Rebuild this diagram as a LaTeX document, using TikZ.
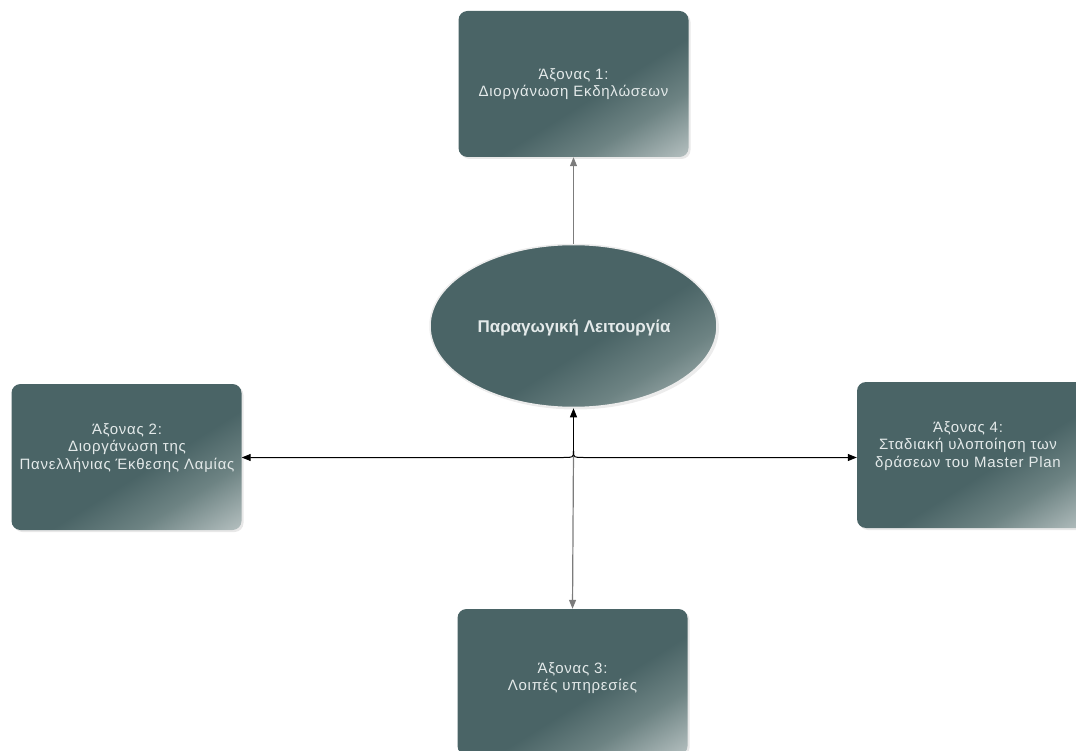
\documentclass[tikz,border=0pt]{standalone}
\usepackage{fontspec}
\setmainfont{Liberation Sans}
\newfontfamily\boxfont[LetterSpace=5]{Liberation Sans}
\usetikzlibrary{arrows.meta,shapes.geometric,shadows}
\definecolor{bdark}{HTML}{4A6466}
\definecolor{bmid}{HTML}{6D8383}
\definecolor{blight}{HTML}{BCC6C6}
\definecolor{btext}{HTML}{E4EAEA}
\definecolor{lgrey}{HTML}{7C7C7C}
\pgfdeclarehorizontalshading{boxshade}{100bp}{color(0bp)=(bdark); color(56bp)=(bdark); color(69bp)=(bmid); color(86bp)=(blight); color(100bp)=(blight)}
\tikzset{
  axisbox/.style={rectangle, rounded corners=9pt, minimum width=230pt, minimum height=146pt,
    shading=boxshade, shading angle=-58,
    drop shadow={opacity=0.18, shadow xshift=2pt, shadow yshift=-2pt}},
  boxtext/.style={text=btext, align=center, inner sep=0pt,
    font=\boxfont\fontsize{15pt}{17.5pt}\selectfont},
  core/.style={ellipse, minimum width=287pt, minimum height=163pt, inner sep=0pt,
    shading=boxshade, shading angle=-58, draw=white!85!gray, line width=1.5pt,
    drop shadow={opacity=0.15, shadow xshift=2pt, shadow yshift=-2pt}},
  coretext/.style={text=btext, inner sep=0pt, font=\bfseries\fontsize{17pt}{18pt}\selectfont},
  greyline/.style={draw=lgrey, line width=1.2pt},
  blackline/.style={draw=black, line width=1pt},
  tip/.style={-{Triangle[length=9pt,width=7pt]}}
}
\begin{document}
\begin{tikzpicture}[x=1pt,y=-1pt]
\useasboundingbox (0,0) rectangle (1076,751);
\node[axisbox] (b1) at (573.5,84) {};
\node[axisbox] (b2) at (126.5,457) {};
\node[axisbox] (b4) at (972,455) {};
\node[axisbox] (b3) at (572.5,682) {};
\node[core] (ell) at (573.5,326) {};
\node[boxtext] (t1) at (573.5,84) {Άξονας 1:\\Διοργάνωση Εκδηλώσεων};
\node[boxtext] (t2) at (127,448) {Άξονας 2:\\Διοργάνωση της\\Πανελλήνιας Έκθεσης Λαμίας};
\node[boxtext] (t4) at (968,446) {Άξονας 4:\\Σταδιακή υλοποίηση των\\δράσεων του Master Plan};
\node[boxtext] (t3) at (572.5,678) {Άξονας 3:\\Λοιπές υπηρεσίες};
\node[coretext] (tc) at (574,328) {Παραγωγική Λειτουργία};
\coordinate (j) at (573.5,451);
\coordinate (jl) at (563,457.5);
\coordinate (jr) at (584,457.5);
\draw[greyline,tip] (ell.north) -- (b1.south);
\draw[blackline,tip] (j) -- (ell.south);
\draw[greyline,tip] (j) -- (b3.north);
\draw[blackline,tip] (j) .. controls (573.5,457.5) .. (jl) -- (b2.east |- jl);
\draw[blackline,tip] (j) .. controls (573.5,457.5) .. (jr) -- (b4.west |- jr);
\end{tikzpicture}
\end{document}
